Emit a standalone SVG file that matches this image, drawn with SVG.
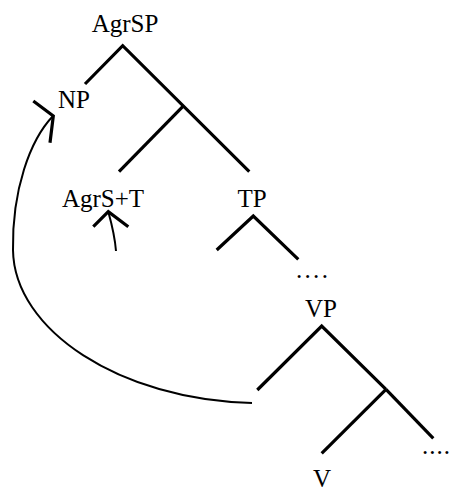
<svg xmlns="http://www.w3.org/2000/svg" width="449" height="491" viewBox="0 0 449 491">
<style>
text{font-family:"Liberation Serif","Times New Roman",serif;font-size:25px;fill:#000;text-anchor:middle}
.dots{letter-spacing:2.3px;text-anchor:start}
.br{stroke:#000;stroke-width:3.2;fill:none}
.mv{stroke:#000;stroke-width:2;fill:none}
</style>
<rect width="449" height="491" fill="#fff"/>
<g id="AgrSP"><text x="125" y="32">AgrSP</text></g>
<g id="NP"><text x="74" y="108">NP</text></g>
<g id="AgrST"><text x="103" y="207">AgrS+T</text></g>
<g id="TP"><text x="252" y="207">TP</text></g>
<g id="dots1"><text class="dots" x="296" y="278">....</text></g>
<g id="VP"><text x="321" y="317">VP</text></g>
<g id="V"><text x="322" y="487">V</text></g>
<g id="dots2"><text class="dots" x="422" y="454" style="letter-spacing:1px">....</text></g>
<g id="connectors">
<polyline class="br" points="85,84 122.7,45.7 249.3,171.7"/>
<line class="br" x1="182.7" y1="106.7" x2="119" y2="171.7"/>
<polyline class="br" points="216.7,250 253.3,216 298.3,259.3"/>
<polyline class="br" points="257.3,390 321.7,326 386,389.3"/>
<line class="br" x1="386" y1="389.3" x2="321.7" y2="453.3"/>
<line class="br" x1="386" y1="389.3" x2="433.3" y2="438.3" stroke-width="2.5"/>
<path class="mv" d="M53,116 C30,140 12,190 13,250 C14,330 120,400 252,403"/>
<polyline class="br" points="33.3,101 53.3,116 50,142.7" stroke-width="3"/>
<path class="mv" d="M108.3,211.7 C112,225 115,238 116,251"/>
<polyline class="br" points="93.3,226.7 108.3,211.7 128.3,226.7" stroke-width="3"/>
</g>
</svg>
